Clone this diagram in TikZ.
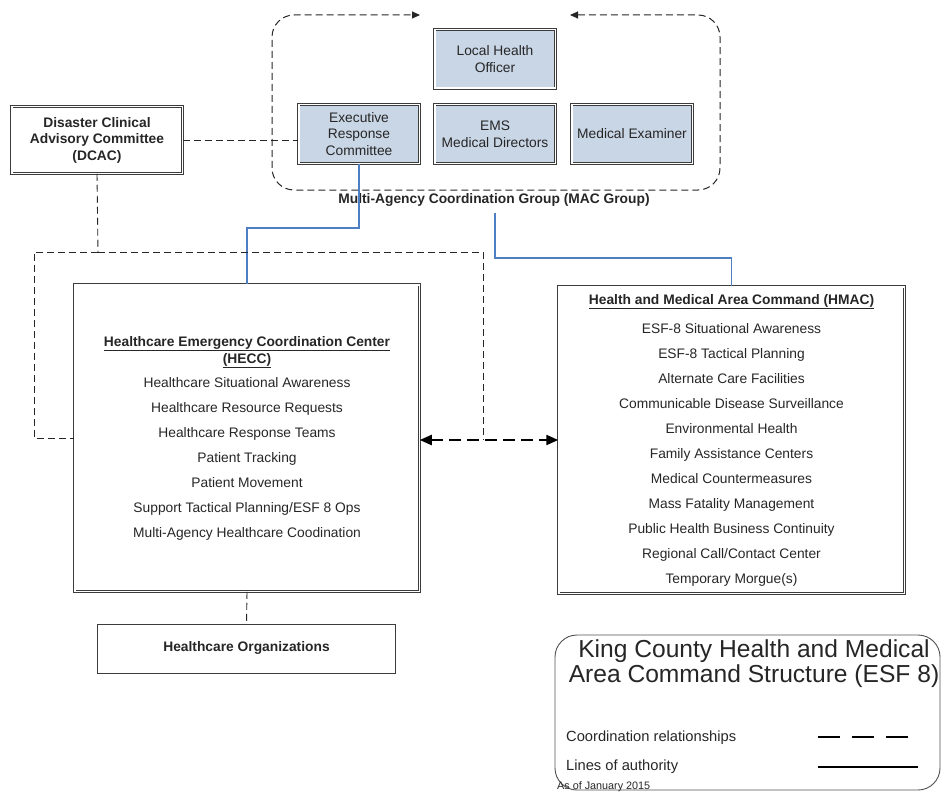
\documentclass[tikz,border=0pt]{standalone}
\usepackage{fontspec}
\setmainfont{Liberation Sans}
\usetikzlibrary{arrows.meta}
\definecolor{boxblue}{HTML}{C9D6E6}
\definecolor{authblue}{HTML}{4F7FC3}
\definecolor{ink}{HTML}{262626}
\begin{document}
\begin{tikzpicture}[x=1pt,y=-1pt,
  every node/.style={text=ink, font=\fontsize{13.8}{16.5}\selectfont, inner sep=0pt, align=center},
  dbox/.style={draw=ink!90, double=white, double distance=1.6pt, line width=0.9pt},
  bluebox/.style={dbox, fill=boxblue, minimum width=120.6pt, minimum height=58.6pt},
  plainbox/.style={draw=ink!90, line width=0.9pt},
  coord/.style={draw=ink, line width=0.9pt, dash pattern=on 7pt off 4pt},
  bigcoord/.style={draw=black, line width=2.2pt, dash pattern=on 12pt off 6pt},
  auth/.style={draw=authblue, line width=1.3pt},
  listfont/.style={font=\fontsize{13.8}{25}\selectfont}
]
\useasboundingbox (0,0) rectangle (942,797);

% MAC group outline
\coordinate (macR) at (570,15);
\coordinate (macL) at (420,15);
\draw[coord, line width=1pt, rounded corners=22pt,
  {Triangle[length=8pt,width=7pt]}-{Triangle[length=8pt,width=7pt]}]
  (macR) -- (720,15) -- (720,190) -- (272,190) -- (272,15) -- (macL);

% MAC members
\node[bluebox] (loh) at (495,59) {Local Health\\Officer};
\node[bluebox] (erc) at (359,134) {Executive\\Response\\Committee};
\node[bluebox] (ems) at (495,134) {EMS\\Medical Directors};
\node[bluebox] (mex) at (632,134) {Medical Examiner};
\node[font=\bfseries\fontsize{13.8}{16.5}\selectfont] (maclabel) at (494,200) {Multi-Agency Coordination Group (MAC Group)};

% DCAC
\node[dbox, minimum width=170.6pt, minimum height=66.6pt, font=\bfseries\fontsize{13.8}{16.5}\selectfont] (dcac) at (97,140) {Disaster Clinical\\Advisory Committee\\(DCAC)};

% HECC
\node[dbox, minimum width=344.6pt, minimum height=306.6pt, listfont] (hecc) at (247,438)
 {\textbf{\underline{Healthcare Emergency Coordination Center}}\\[-8pt]
  \textbf{\underline{(HECC)}}\\[-1pt]
  Healthcare Situational Awareness\\
  Healthcare Resource Requests\\
  Healthcare Response Teams\\
  Patient Tracking\\
  Patient Movement\\
  Support Tactical Planning/ESF 8 Ops\\
  Multi-Agency Healthcare Coodination};

% HMAC
\node[dbox, minimum width=345.6pt, minimum height=306.6pt, listfont] (hmac) at (731.5,440)
 {\textbf{\underline{Health and Medical Area Command (HMAC)}}\\[4pt]
  ESF-8 Situational Awareness\\
  ESF-8 Tactical Planning\\
  Alternate Care Facilities\\
  Communicable Disease Surveillance\\
  Environmental Health\\
  Family Assistance Centers\\
  Medical Countermeasures\\
  Mass Fatality Management\\
  Public Health Business Continuity\\
  Regional Call/Contact Center\\
  Temporary Morgue(s)};

% Healthcare Organizations
\node[plainbox, minimum width=298pt, minimum height=49pt, font=\bfseries\fontsize{13.8}{16.5}\selectfont] (ho) at (246.5,649) {\raisebox{6pt}{Healthcare Organizations}};

% Lines of authority
\draw[auth] (erc.south) -- (359,228) -| (hecc.north);
\coordinate (macfoot) at (495,213);
\draw[auth] (macfoot) -- (495,258) -| (hmac.north);

% Coordination relationships
\draw[coord] (dcac.east) -- (dcac.east -| erc.west);
\coordinate (split) at (98,252);
\draw[coord] (dcac.south) -- (split);
\draw[coord] (split) -- (34,252) |- (hecc.west);
\draw[coord] (split) -- (483,252) -- (483,440);
\draw[bigcoord, {Triangle[length=12pt,width=10pt]}-{Triangle[length=12pt,width=10pt]}]
  (hecc.east |- hmac.west) -- (hmac.west);
\draw[coord] (hecc.south) -- (ho.north);

% Legend
\draw[draw=ink!80, line width=0.9pt, rounded corners=22pt] (555,635) rectangle (940,790);
\node[font=\fontsize{24.6}{25}\selectfont] (legtitle) at (754,664) {King County Health and Medical\\Area Command Structure (ESF 8)};
\node[anchor=west, font=\fontsize{14.7}{17}\selectfont] (legc) at (566,738) {Coordination relationships};
\node[anchor=west, font=\fontsize{14.7}{17}\selectfont] (lega) at (566,767) {Lines of authority};
\node[anchor=west, font=\fontsize{10.8}{12}\selectfont] (legd) at (557,787) {As of January 2015};
\coordinate (lc1) at (818,737);
\coordinate (lc2) at (910,737);
\coordinate (la1) at (818,767);
\coordinate (la2) at (918,767);
\draw[draw=black, line width=1.8pt, dash pattern=on 22pt off 12pt] (lc1) -- (lc2);
\draw[draw=black, line width=1.8pt] (la1) -- (la2);
\end{tikzpicture}
\end{document}
